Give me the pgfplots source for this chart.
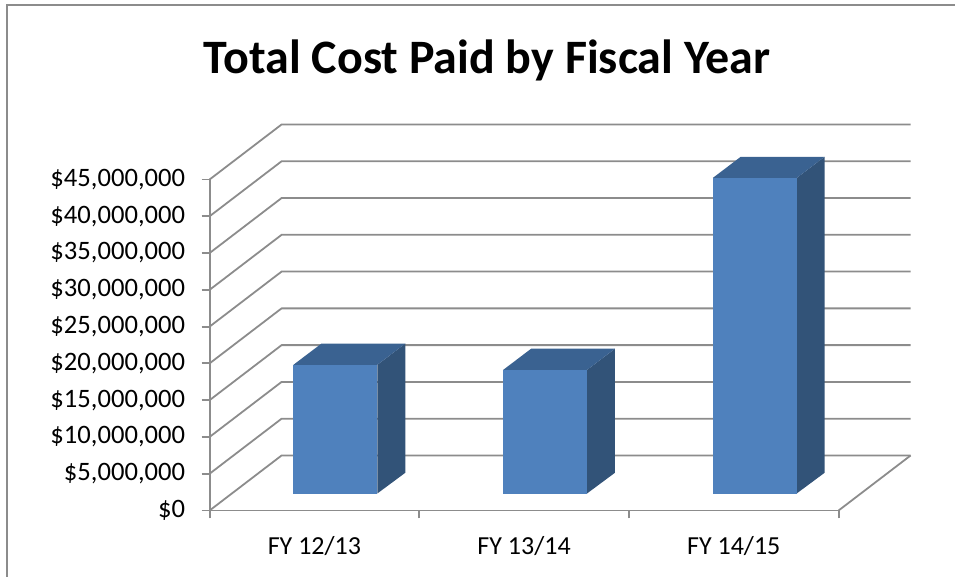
\documentclass[border=0pt]{standalone}
\usepackage{pgfplots}
\pgfplotsset{compat=1.18}
\usepackage{fontspec}
\setmainfont{Carlito}
\definecolor{front}{HTML}{4F81BD}
\definecolor{sidec}{HTML}{325378}
\definecolor{topc}{HTML}{3A6291}
\definecolor{gridc}{HTML}{8C8C8C}
\begin{document}
\begin{tikzpicture}[x=1pt,y=1pt]
\path[use as bounding box] (0,0) rectangle (955,577);
\draw[color=gridc,line width=2pt] (7,-2) -- (7,571.5) -- (957,571.5);
\node[font=\fontsize{48}{52}\selectfont\bfseries,anchor=center] at (487,516.5) {Total Cost Paid by Fiscal Year};
\begin{axis}[
  at={(209.6pt,66.5pt)},anchor=origin,
  scale only axis,width=629pt,height=331pt,
  xmin=0,xmax=3,ymin=0,ymax=45000000,
  clip=false,
  axis x line=bottom,axis y line=left,
  axis line style={-,color=gridc,line width=1.8pt},
  xtick={0,1,2,3},xticklabels={},
  extra x ticks={0.5,1.5,2.5},
  extra x tick labels={FY 12/13,FY 13/14,FY 14/15},
  extra x tick style={major tick length=0pt,tick label style={font=\fontsize{26}{28}\selectfont,yshift=-22pt}},
  ytick={0,5000000,...,45000000},
  yticklabels={{\$0},{\$5,000,000},{\$10,000,000},{\$15,000,000},{\$20,000,000},{\$25,000,000},{\$30,000,000},{\$35,000,000},{\$40,000,000},{\$45,000,000}},
  tick style={color=gridc,line width=1.8pt},
  tick align=outside,major tick length=8pt,
  y tick label style={font=\fontsize{26.6}{28}\selectfont,xshift=-13pt},
  scaled y ticks=false,
]
% floor and wall gridlines: (front corner) -> (back corner) -> (back right)
\pgfplotsinvokeforeach{0,5000000,10000000,15000000,20000000,25000000,30000000,35000000,40000000,45000000}{
  \addplot[color=gridc,line width=1.8pt,forget plot] coordinates {(0,#1) (0.3434,{#1+7480000}) (3.3434,{#1+7480000})};
}
\addplot[color=gridc,line width=1.8pt,forget plot] coordinates {(3,0) (3.3434,7480000)};
% FY 12/13 : value 17500000
\addplot[fill=sidec,draw=none,forget plot] coordinates {(0.8,2310000) (0.9333,5130000) (0.9333,22690000) (0.8,19810000)} -- cycle;
\addplot[fill=topc,draw=none,forget plot] coordinates {(0.4,19810000) (0.8,19810000) (0.9333,22690000) (0.5333,22690000)} -- cycle;
\addplot[fill=front,draw=none,forget plot] coordinates {(0.4,2310000) (0.8,2310000) (0.8,19810000) (0.4,19810000)} -- cycle;
% FY 13/14 : value 16800000
\addplot[fill=sidec,draw=none,forget plot] coordinates {(1.8,2310000) (1.9333,5130000) (1.9333,21990000) (1.8,19110000)} -- cycle;
\addplot[fill=topc,draw=none,forget plot] coordinates {(1.4,19110000) (1.8,19110000) (1.9333,21990000) (1.5333,21990000)} -- cycle;
\addplot[fill=front,draw=none,forget plot] coordinates {(1.4,2310000) (1.8,2310000) (1.8,19110000) (1.4,19110000)} -- cycle;
% FY 14/15 : value 42900000
\addplot[fill=sidec,draw=none,forget plot] coordinates {(2.8,2310000) (2.9333,5130000) (2.9333,48090000) (2.8,45210000)} -- cycle;
\addplot[fill=topc,draw=none,forget plot] coordinates {(2.4,45210000) (2.8,45210000) (2.9333,48090000) (2.5333,48090000)} -- cycle;
\addplot[fill=front,draw=none,forget plot] coordinates {(2.4,2310000) (2.8,2310000) (2.8,45210000) (2.4,45210000)} -- cycle;
\end{axis}
\end{tikzpicture}
\end{document}
